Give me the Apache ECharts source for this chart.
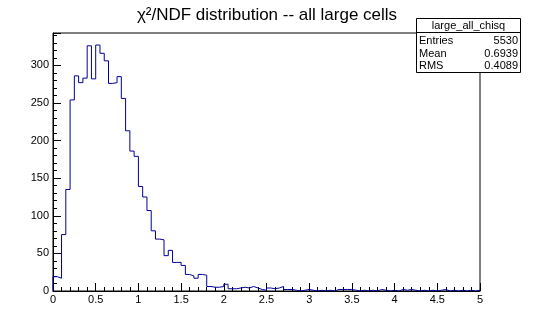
<!DOCTYPE html>
<html>
<head>
<meta charset="utf-8">
<script src="https://cdn.jsdelivr.net/npm/echarts@6/dist/echarts.min.js"></script>
<style>html,body{margin:0;padding:0;background:#fff}#c{width:534px;height:323px}</style>
</head>
<body>
<div id="c"></div>
<script>
// Histogram: 100 bins from 0 to 5 (width 0.05)
const binLow = 0;
const binWidth = 0.05;
const counts = [
  19, 17, 75, 135, 254, 286, 277, 283, 326, 282,
  327, 316, 306, 276, 277, 285, 256, 213, 186, 179,
  139, 125, 107, 80, 69, 68, 47, 54, 38, 38,
  34, 22, 20, 17, 22, 21, 6, 5, 5, 6,
  9, 3, 3, 4, 5, 4, 6, 4, 2, 1,
  4, 3, 4, 6, 2, 2, 1, 0, 1, 2,
  1, 0, 1, 0, 1, 0, 2, 2, 2, 2,
  1, 0, 1, 0, 1, 0, 2, 1, 0, 1,
  0, 2, 1, 2, 1, 0, 1, 0, 1, 0,
  1, 2, 0, 1, 0, 1, 0, 1, 0, 1
];
const xTicks = [0, 0.5, 1, 1.5, 2, 2.5, 3, 3.5, 4, 4.5, 5];
const yTicks = [0, 50, 100, 150, 200, 250, 300];
const titleText = 'χ²/NDF distribution -- all large cells';
const statsName = 'large_all_chisq';
const statsLabels = ['Entries', 'Mean', 'RMS'];
const statsValues = ['5530', '0.6939', '0.4089'];

const yMax = 343;
const font = 'Liberation Sans, Arial, Helvetica, sans-serif';

const pts = [[binLow, 0]];
counts.forEach((v, i) => pts.push([binLow + i * binWidth, v]));
pts.push([binLow + counts.length * binWidth, counts[counts.length - 1]]);

const chart = echarts.init(document.getElementById('c'), null, {renderer: 'canvas'});

const graphics = [
  {type: 'rect', z: 100, shape: {x: 416.5, y: 18.5, width: 104, height: 54},
   style: {fill: '#fff', stroke: '#000', lineWidth: 1}},
  {type: 'line', z: 101, shape: {x1: 416.5, y1: 32.5, x2: 520.5, y2: 32.5},
   style: {stroke: '#000', lineWidth: 1}},
  {type: 'text', z: 102, x: 468.5, y: 25.5,
   style: {text: statsName, font: '11px ' + font, fill: '#000', align: 'center', verticalAlign: 'middle'}}
];
statsLabels.forEach((l, i) => {
  graphics.push({type: 'text', z: 102, x: 419, y: 41 + i * 12.5,
    style: {text: l, font: '11px ' + font, fill: '#000', align: 'left', verticalAlign: 'middle'}});
  graphics.push({type: 'text', z: 102, x: 518, y: 41 + i * 12.5,
    style: {text: statsValues[i], font: '11px ' + font, fill: '#000', align: 'right', verticalAlign: 'middle'}});
});

chart.setOption({
  animation: false,
  backgroundColor: '#fff',
  title: {
    text: titleText, left: 'center', top: 2,
    textStyle: {fontSize: 17, fontWeight: 'normal', fontFamily: font, color: '#000'}
  },
  grid: {left: 53, right: 54, top: 33, bottom: 32, show: true, borderColor: '#000', borderWidth: 1, backgroundColor: 'transparent'},
  xAxis: {
    type: 'value', min: xTicks[0], max: xTicks[xTicks.length - 1], interval: 0.5,
    axisLine: {show: true, lineStyle: {color: '#000', width: 1}},
    axisTick: {show: true, inside: true, length: 8, lineStyle: {color: '#000'}},
    minorTick: {show: true, splitNumber: 5, length: 4, lineStyle: {color: '#000'}},
    splitLine: {show: false},
    axisLabel: {color: '#000', fontSize: 11, fontFamily: font, margin: 3,
      formatter: v => String(v)}
  },
  yAxis: [
    {
      type: 'value', min: 0, max: yMax, interval: 50, position: 'left',
      axisLine: {show: true, lineStyle: {color: '#000', width: 1}},
      axisTick: {show: true, inside: true, length: 8, lineStyle: {color: '#000'}},
      splitLine: {show: false},
      axisLabel: {color: '#000', fontSize: 11, fontFamily: font, margin: 4,
        formatter: v => yTicks.indexOf(v) >= 0 ? String(v) : ''}
    },
    {
      type: 'value', min: 0, max: yMax, interval: 10, position: 'left', offset: 0,
      axisLine: {show: false},
      axisTick: {show: true, inside: true, length: 4, lineStyle: {color: '#000'}},
      splitLine: {show: false},
      axisLabel: {show: false}
    }
  ],
  series: [{
    type: 'line', step: 'end', data: pts, yAxisIndex: 0,
    symbol: 'none', lineStyle: {color: '#000099', width: 1}, z: 1
  }],
  graphic: graphics
});
</script>
</body>
</html>
